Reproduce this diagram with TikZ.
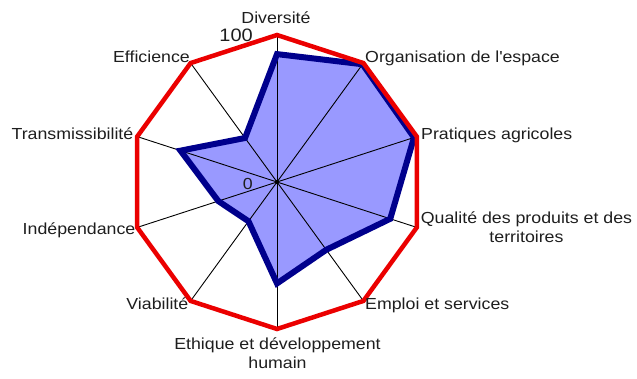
\documentclass[tikz,border=0pt]{standalone}
\usepackage{fontspec}
\setmainfont[FakeStretch=1.11]{Liberation Sans}
\definecolor{redline}{RGB}{235,0,0}
\definecolor{navyline}{RGB}{0,0,140}
\definecolor{bluefill}{RGB}{153,153,255}
\definecolor{txt}{RGB}{30,30,30}
\begin{document}
\begin{tikzpicture}[x=1pt,y=1pt,
  lbl/.style={inner sep=0pt, font=\fontsize{16}{18.5}\selectfont, text=txt},
  axisline/.style={draw=black, line width=0.9pt},
  seriesline/.style={draw=navyline, line width=6pt, line join=miter},
  maxline/.style={draw=redline, line width=4.5pt, line join=miter},
  seriesfill/.style={fill=bluefill}]
\useasboundingbox (0,0) rectangle (637,378);
\coordinate (C) at (277,196);
\def\R{147}
\foreach \i/\a/\v in {1/90/0.87,2/54/0.99,3/18/0.98,4/-18/0.81,5/-54/0.57,6/-90/0.69,7/-126/0.33,8/-162/0.42,9/162/0.69,10/126/0.37}{
  \path (C) ++(\a:\R) coordinate (A\i);
  \path (C) ++(\a:\R*\v) coordinate (B\i);
}
\fill[seriesfill] (B1) -- (B2) -- (B3) -- (B4) -- (B5) -- (B6) -- (B7) -- (B8) -- (B9) -- (B10) -- cycle;
\foreach \i in {1,...,10}{\draw[axisline] (C) -- (A\i);}
\draw[seriesline] (B1) -- (B2) -- (B3) -- (B4) -- (B5) -- (B6) -- (B7) -- (B8) -- (B9) -- (B10) -- cycle;
\draw[maxline] (A1) -- (A2) -- (A3) -- (A4) -- (A5) -- (A6) -- (A7) -- (A8) -- (A9) -- (A10) -- cycle;
\fill[black] (C) circle (2.2);
\node[lbl, anchor=base] (L1) at (276,354.5) {Diversité};
\node[lbl, anchor=base west] (L2) at (365,315) {Organisation de l\textquotesingle espace};
\node[lbl, anchor=base west] (L3) at (421,238) {Pratiques agricoles};
\node[lbl, anchor=north, align=center] (L4) at (526.5,166) {Qualité des produits et des\\territoires};
\node[lbl, anchor=base west] (L5) at (365,69) {Emploi et services};
\node[lbl, anchor=north, align=center] (L6) at (277.5,40) {Ethique et développement\\humain};
\node[lbl, anchor=base east] (L7) at (188.5,69) {Viabilité};
\node[lbl, anchor=base east] (L8) at (135.5,144) {Indépendance};
\node[lbl, anchor=base east] (L9) at (133.5,238) {Transmissibilité};
\node[lbl, anchor=base east] (L10) at (190,315) {Efficience};
\node[lbl, anchor=base east, font=\fontsize{18}{20}\selectfont] (T100) at (253,336.5) {100};
\node[lbl, anchor=base east] (T0) at (253,189) {0};
\end{tikzpicture}
\end{document}
